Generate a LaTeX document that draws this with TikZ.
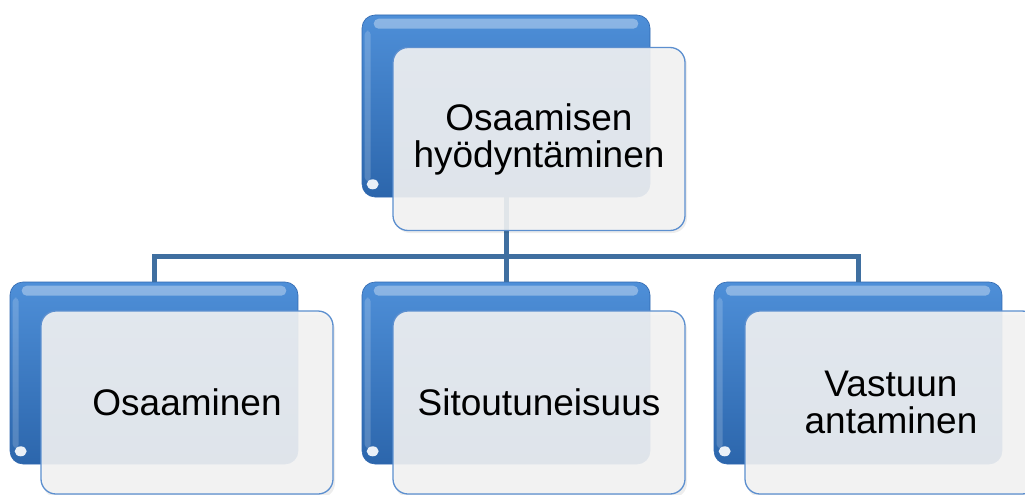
\documentclass[tikz,border=0pt]{standalone}
\usepackage{fontspec}
\setmainfont{Liberation Sans}
\usetikzlibrary{calc}

\definecolor{barblue}{HTML}{3F6FA0}
\definecolor{tabtop}{HTML}{4E8FD8}
\definecolor{tabbot}{HTML}{2C66AC}
\definecolor{tabedge}{HTML}{3068B0}
\definecolor{cardfill}{HTML}{F3F3F3}
\definecolor{cardedge}{HTML}{5C8FCF}

\tikzset{
  tab/.style={rectangle, rounded corners=13pt, minimum width=288pt, minimum height=182pt,
    top color=tabtop, bottom color=tabbot, draw=tabedge, line width=0.6pt, inner sep=0pt},
  card/.style={rectangle, rounded corners=15pt, minimum width=292pt, minimum height=183pt,
    fill=cardfill, fill opacity=0.9, text opacity=1, draw=cardedge, line width=1.3pt,
    align=center, inner sep=0pt, font=\fontsize{37}{37}\selectfont},
  cardshadow/.style={rectangle, rounded corners=15pt, minimum width=292pt, minimum height=183pt,
    fill=black, fill opacity=0.07, inner sep=0pt},
  bus/.style={draw=barblue, line width=5pt},
}

% glossy highlights on a blue tab
\newcommand\tabgloss[1]{%
  \fill[white, opacity=0.35, rounded corners=5pt]
    ($(#1.north west)+(12,4)$) rectangle ($(#1.north east)+(-12,14)$);
  \fill[white, opacity=0.18, rounded corners=4pt]
    ($(#1.north west)+(3,16)$) rectangle ($(#1.south west)+(9,-16)$);
  \fill[white, opacity=0.9] ($(#1.south west)+(11,-13)$) ellipse (6pt and 5pt);
}

\begin{document}
\begin{tikzpicture}[x=1pt, y=-1pt]
  \clip (0,0) rectangle (1025,495);
  \fill[white] (0,0) rectangle (1025,495);

  % blue back tabs
  \node[tab] (topt) at (506,106) {};
  \node[tab] (lt)   at (154,373) {};
  \node[tab] (mt)   at (506,373) {};
  \node[tab] (rt)   at (858,373) {};
  \tabgloss{topt}
  \tabgloss{lt}
  \tabgloss{mt}
  \tabgloss{rt}

  % connectors
  \coordinate (hub) at (506,256);
  \draw[bus] (topt.south) -- (hub);
  \draw[bus] (lt.north) |- (hub) -| (rt.north);
  \draw[bus] (hub) -- (mt.north);

  % soft shadows under the cards
  \foreach \p in {(541,141.5),(189,406.5),(541,406.5),(893,406.5)} {
    \node[cardshadow] at \p {};
  }

  % front cards with labels
  \node[card] (topc) at (539,139) {Osaamisen\\hyödyntäminen};
  \node[card] (lc)   at (187,402.5) {Osaaminen};
  \node[card] (mc)   at (539,402.5) {Sitoutuneisuus};
  \node[card] (rc)   at (891,402.5) {Vastuun\\antaminen};
\end{tikzpicture}
\end{document}
